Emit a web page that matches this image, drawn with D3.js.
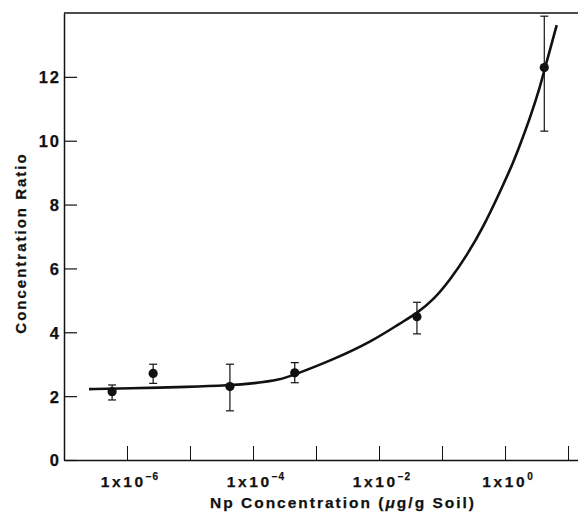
<!DOCTYPE html>
<html>
<head>
<meta charset="utf-8">
<script src="https://cdn.jsdelivr.net/npm/d3@7"></script>
<style>
  body { margin: 0; background: #fff; }
  svg { display: block; }
  text { font-family: "Liberation Sans", Arial, sans-serif; font-weight: bold; fill: #111; stroke: #111; stroke-width: 0.25px; }
</style>
</head>
<body>
<div id="container"></div>
<script>
// measured points with error bars
const pointX = [5.8e-7, 2.6e-6, 4.3e-5, 4.6e-4, 4.0e-2, 4.2];
const pointY = [2.14, 2.71, 2.30, 2.73, 4.49, 12.29];
const errLow = [1.88, 2.40, 1.54, 2.42, 3.95, 10.30];
const errHigh = [2.35, 3.00, 3.00, 3.05, 4.94, 13.90];

// fitted curve
const curveX = [2.5e-7, 1e-6, 1e-5, 4.16e-5, 1.04e-4, 2.68e-4, 4.64e-4, 1.67e-3, 8.0e-3, 0.0215, 0.0396, 0.0728, 0.134, 0.247, 0.453, 0.834, 1.36, 1.73, 2.49, 3.60, 4.32, 6.62];
const curveY = [2.22, 2.24, 2.29, 2.34, 2.40, 2.51, 2.68, 3.10, 3.73, 4.28, 4.59, 5.01, 5.64, 6.40, 7.30, 8.40, 9.33, 9.87, 10.71, 11.69, 12.29, 13.62];

const xTicks = [1e-6, 1e-5, 1e-4, 1e-3, 1e-2, 1e-1, 1e0, 1e1];
const xLabelExps = [-6, -4, -2, 0];
const yTicks = [0, 2, 4, 6, 8, 10, 12];

const width = 578, height = 521;
const margin = {top: 13, right: 0, bottom: 61, left: 64};

const x = d3.scaleLog()
    .domain([1e-7, 14.4])
    .range([margin.left, width - margin.right]);

const y = d3.scaleLinear()
    .domain([0, 14])
    .range([height - margin.bottom, margin.top]);

const svg = d3.select("#container").append("svg")
    .attr("width", width)
    .attr("height", height);

// top frame line
svg.append("line")
    .attr("x1", margin.left).attr("x2", width)
    .attr("y1", margin.top).attr("y2", margin.top)
    .attr("stroke", "#111")
    .attr("stroke-width", 1.5);

const xAxis = svg.append("g")
    .attr("transform", `translate(0, ${height - margin.bottom})`)
    .call(d3.axisBottom(x).tickValues(xTicks).tickSizeInner(-14).tickSizeOuter(0).tickFormat(""));
xAxis.select(".domain").attr("stroke", "#111").attr("stroke-width", 1.6);
xAxis.selectAll(".tick line").attr("stroke", "#111").attr("stroke-width", 1);

const yAxis = svg.append("g")
    .attr("transform", `translate(${margin.left}, 0)`)
    .call(d3.axisLeft(y).tickValues(yTicks).tickSizeInner(-13).tickSizeOuter(0).tickPadding(3));
yAxis.select(".domain").attr("stroke", "#111").attr("stroke-width", 1.5);
yAxis.selectAll(".tick line").attr("stroke", "#111").attr("stroke-width", 1.2);
yAxis.selectAll(".tick text")
    .attr("fill", "#111")
    .attr("font-size", "16.5px")
    .attr("font-family", "Liberation Sans, Arial, sans-serif")
    .attr("font-weight", "bold")
    .attr("dy", "0.36em")
    .style("letter-spacing", "2px");

// x tick labels like 1x10^-6
xLabelExps.forEach(e => {
    const t = svg.append("text")
        .attr("x", x(Math.pow(10, e)) + 3)
        .attr("y", 487)
        .attr("text-anchor", "middle")
        .attr("font-size", "15.5px")
        .style("letter-spacing", "2.6px");
    t.append("tspan").text("1x10");
    t.append("tspan")
        .attr("dy", -7)
        .attr("font-size", "10px")
        .style("letter-spacing", "1px")
        .text(e === 0 ? "0" : "\u2212" + Math.abs(e));
});

// curve
svg.append("path")
    .datum(curveX.map((d, i) => [d, curveY[i]]))
    .attr("fill", "none")
    .attr("stroke", "#111")
    .attr("stroke-width", 2.6)
    .attr("d", d3.line()
        .x(d => x(d[0]))
        .y(d => y(d[1]))
        .curve(d3.curveBasis));

// error bars
const bars = svg.append("g")
    .attr("stroke", "#111")
    .attr("stroke-width", 1.2);
pointX.forEach((px, i) => {
    bars.append("line")
        .attr("x1", x(px)).attr("x2", x(px))
        .attr("y1", y(errLow[i])).attr("y2", y(errHigh[i]));
    [errLow[i], errHigh[i]].forEach(v => {
        bars.append("line")
            .attr("x1", x(px) - 4).attr("x2", x(px) + 4)
            .attr("y1", y(v)).attr("y2", y(v));
    });
});

svg.append("g")
    .selectAll("circle")
    .data(pointX)
    .enter()
    .append("circle")
    .attr("cx", d => x(d))
    .attr("cy", (d, i) => y(pointY[i]))
    .attr("r", 4.6)
    .attr("fill", "#111");

// axis titles
const xTitle = svg.append("text")
    .attr("x", 343)
    .attr("y", 508)
    .attr("text-anchor", "middle")
    .attr("font-size", "15.5px")
    .style("letter-spacing", "2px");
xTitle.append("tspan").text("Np Concentration (");
xTitle.append("tspan").attr("font-style", "italic").text("\u03bc");
xTitle.append("tspan").text("g/g Soil)");

svg.append("text")
    .attr("transform", "rotate(-90)")
    .attr("x", -243)
    .attr("y", 26)
    .attr("text-anchor", "middle")
    .attr("font-size", "15px")
    .style("letter-spacing", "2px")
    .text("Concentration Ratio");
</script>
</body>
</html>
